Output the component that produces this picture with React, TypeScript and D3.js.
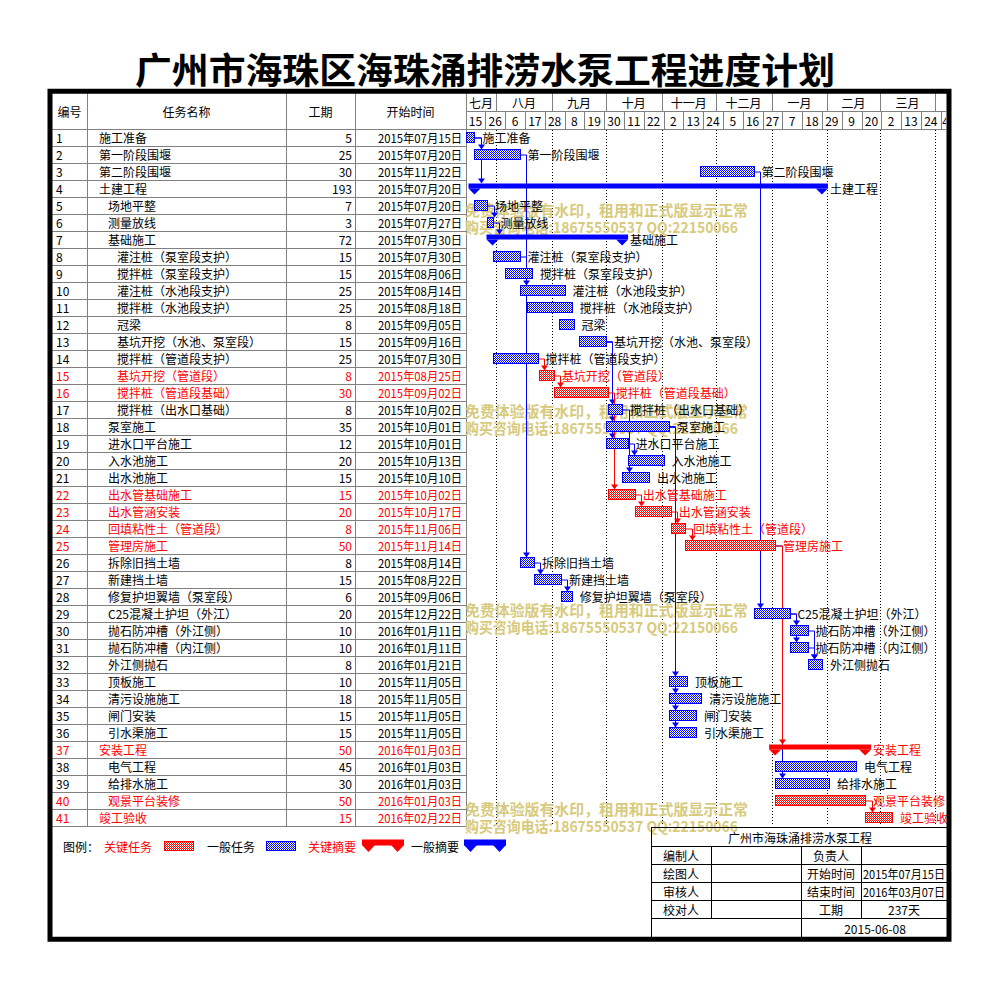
import React from 'react';
import * as d3 from 'd3';

// task table
const taskNames = [
  '施工准备', '第一阶段围堰', '第二阶段围堰', '土建工程', '场地平整', '测量放线', '基础施工',
  '灌注桩（泵室段支护）', '搅拌桩（泵室段支护）', '灌注桩（水池段支护）', '搅拌桩（水池段支护）', '冠梁',
  '基坑开挖（水池、泵室段）', '搅拌桩（管道段支护）', '基坑开挖（管道段）', '搅拌桩（管道段基础）', '搅拌桩（出水口基础）',
  '泵室施工', '进水口平台施工', '入水池施工', '出水池施工', '出水管基础施工', '出水管涵安装', '回填粘性土（管道段）', '管理房施工',
  '拆除旧挡土墙', '新建挡土墙', '修复护坦翼墙（泵室段）', 'C25混凝土护坦（外江）', '抛石防冲槽（外江侧）', '抛石防冲槽（内江侧）', '外江侧抛石',
  '顶板施工', '清污设施施工', '闸门安装', '引水渠施工', '安装工程', '电气工程', '给排水施工', '观景平台装修', '竣工验收',
];
const taskLevels = [
  1, 1, 1, 1, 2, 2, 2, 3, 3, 3, 3, 3, 3, 3, 3, 3, 3, 2, 2, 2, 2, 2, 2, 2, 2,
  2, 2, 2, 2, 2, 2, 2, 2, 2, 2, 2, 1, 2, 2, 2, 1,
];
const durations = [
  5, 25, 30, 193, 7, 3, 72, 15, 15, 25, 25, 8, 15, 25, 8, 30, 8, 35, 12, 20, 15, 15, 20, 8, 50,
  8, 15, 6, 20, 10, 10, 8, 10, 18, 15, 15, 50, 45, 30, 50, 15,
];
const startDates = [
  '2015-07-15', '2015-07-20', '2015-11-22', '2015-07-20', '2015-07-20', '2015-07-27', '2015-07-30',
  '2015-07-30', '2015-08-06', '2015-08-14', '2015-08-18', '2015-09-05', '2015-09-16', '2015-07-30',
  '2015-08-25', '2015-09-02', '2015-10-02', '2015-10-01', '2015-10-01', '2015-10-13', '2015-10-10',
  '2015-10-02', '2015-10-17', '2015-11-06', '2015-11-14', '2015-08-14', '2015-08-22', '2015-09-06',
  '2015-12-22', '2016-01-11', '2016-01-11', '2016-01-21', '2015-11-05', '2015-11-05', '2015-11-05',
  '2015-11-05', '2016-01-03', '2016-01-03', '2016-01-03', '2016-01-03', '2016-02-22',
];
const criticalRows = [15, 16, 22, 23, 24, 25, 37, 40, 41];
const summaryRows = [4, 7, 37];
// finish-to-start links: [predecessor, successor] (row numbers)
const links: [number, number][] = [
  [1, 2], [1, 4], [5, 6], [6, 7], [8, 10], [2, 26], [14, 15], [15, 16],
  [13, 17], [13, 18], [13, 19], [16, 22], [17, 21], [19, 20], [22, 23], [23, 24], [24, 25],
  [18, 33], [18, 34], [18, 35], [18, 36], [3, 29], [29, 30], [29, 31], [30, 32], [31, 32],
  [26, 27], [27, 28], [25, 39], [25, 37], [40, 41],
];

const timelineStart = '2015-07-15';
const timelineEnd = '2016-04-07';
const monthLabels = ['七月', '八月', '九月', '十月', '十一月', '十二月', '一月', '二月', '三月'];
const dayTickLabels = ['15', '26', '6', '17', '28', '8', '19', '30', '11', '22', '2', '13', '24',
  '5', '16', '27', '7', '18', '29', '9', '20', '2', '13', '24', '4'];

const headerCols = ['编号', '任务名称', '工期', '开始时间'];
const legendItems = ['关键任务', '一般任务', '关键摘要', '一般摘要'];
const infoLeft = ['编制人', '绘图人', '审核人', '校对人'];
const infoMid = ['负责人', '开始时间', '结束时间', '工期'];
const infoRight = ['', '2015年07月15日', '2016年03月07日', '237天'];
const projectName = '广州市海珠涌排涝水泵工程';
const chartTitle = '广州市海珠区海珠涌排涝水泵工程进度计划';
const printDate = '2015-06-08';
const watermark = ['免费体验版有水印，租用和正式版显示正常', '购买咨询电话:18675550537 QQ:22150066'];

const FONT = '"Noto Sans CJK SC", "Noto Sans", sans-serif';
const BLUE = '#0000ff';
const RED = '#ff0000';
const GRID = '#808080';

export default function App() {
  const parse = d3.utcParse('%Y-%m-%d');
  const fmt = d3.utcFormat('%Y年%m月%d日');
  const t0 = parse(timelineStart)!;
  const t1 = parse(timelineEnd)!;
  const pxPerDay = 1.8;
  const x = d3.scaleUtc().domain([t0, t1]).range([465.5, 465.5 + d3.utcDay.count(t0, t1) * pxPerDay]);
  const y = d3.scaleBand<number>().domain(d3.range(taskNames.length)).range([129, 826]);
  const rowH = y.bandwidth();
  const gx0 = 466, gx1 = x.range()[1];
  const cols = [52, 87, 286, 355, 466];

  const tasks = taskNames.map((name, i) => {
    const start = parse(startDates[i])!;
    return {
      i, name, level: taskLevels[i], dur: durations[i], start,
      end: d3.utcDay.offset(start, durations[i]),
      critical: criticalRows.includes(i + 1),
      summary: summaryRows.includes(i + 1),
    };
  });
  const r = (v: number) => Math.round(v) + 0.5;

  const months = d3.utcMonth.range(d3.utcMonth.floor(t0), t1);
  const monthEdges = d3.utcMonth.range(d3.utcMonth.ceil(t0), t1);
  const dayTicks = d3.utcDay.range(t0, t1, 11);

  const orderedLinks = [...links].sort((a, b) =>
    Number(tasks[a[1] - 1].critical) - Number(tasks[b[1] - 1].critical));

  return (
    <>
      <style>{'body{margin:0}'}</style>
      <svg width={999} height={988} style={{ display: 'block', background: '#fff' }} fontFamily={FONT}>
        <defs>
          <pattern id="pBlue" width="2" height="2" patternUnits="userSpaceOnUse">
            <rect width="2" height="2" fill="#fff" />
            <rect width="1" height="1" fill={BLUE} />
            <rect x="1" y="1" width="1" height="1" fill={BLUE} />
          </pattern>
          <pattern id="pRed" width="2" height="2" patternUnits="userSpaceOnUse">
            <rect width="2" height="2" fill="#fff" />
            <rect width="1" height="1" fill={RED} />
            <rect x="1" y="1" width="1" height="1" fill={RED} />
          </pattern>
          <clipPath id="ganttClip">
            <rect x={gx0} y={93} width={gx1 - gx0} height={740} />
          </clipPath>
        </defs>

        {/* title */}
        <text x={485} y={68} textAnchor="middle" dominantBaseline="central" fontSize={36}
          fontWeight="bold" textLength={700} lengthAdjust="spacingAndGlyphs">{chartTitle}</text>

        {/* table grid */}
        <g stroke={GRID} strokeWidth={1} shapeRendering="crispEdges">
          {cols.slice(1).map((c) => <line key={c} x1={c + 0.5} x2={c + 0.5} y1={93} y2={826} />)}
          {d3.range(taskNames.length + 1).map((k) => (
            <line key={k} x1={52} x2={466} y1={129 + k * rowH + 0.5} y2={129 + k * rowH + 0.5} />
          ))}
          <line x1={466} x2={gx1} y1={111.5} y2={111.5} />
          <line x1={466} x2={gx1} y1={129.5} y2={129.5} />
          {monthEdges.map((m) => <line key={+m} x1={r(x(m))} x2={r(x(m))} y1={93} y2={111} />)}
          {dayTicks.slice(1).map((d) => <line key={+d} x1={r(x(d))} x2={r(x(d))} y1={111} y2={129} />)}
        </g>

        {/* table header */}
        {headerCols.map((h, k) => (
          <text key={h} x={(cols[k] + cols[k + 1]) / 2} y={111} textAnchor="middle"
            dominantBaseline="central" fontSize={12}>{h}</text>
        ))}

        {/* timeline header */}
        <g clipPath="url(#ganttClip)" fontSize={12}>
          {months.map((m, k) => {
            if (k >= monthLabels.length) return null;
            const a = Math.max(x(m), gx0);
            const b = Math.min(x(d3.utcMonth.offset(m, 1)), gx1);
            return <text key={+m} x={(a + b) / 2} y={102} textAnchor="middle" dominantBaseline="central">{monthLabels[k]}</text>;
          })}
          {dayTicks.map((d, k) => {
            const a = x(d);
            const b = x(d3.utcDay.offset(d, 11));
            const narrow = b > gx1;
            return (
              <text key={+d} x={narrow ? a + 1.5 : (a + b) / 2} y={120}
                textAnchor={narrow ? 'start' : 'middle'} dominantBaseline="central">{dayTickLabels[k]}</text>
            );
          })}
        </g>

        {/* month dotted lines */}
        <g stroke="#000" strokeDasharray="1,2" shapeRendering="crispEdges">
          {monthEdges.map((m) => <line key={+m} x1={r(x(m))} x2={r(x(m))} y1={130} y2={826} />)}
        </g>

        {/* table rows */}
        <g fontSize={12} dominantBaseline="central">
          {tasks.map((t) => {
            const cy = y(t.i)! + rowH / 2;
            const fill = t.critical ? RED : '#000';
            return (
              <g key={t.i} fill={fill}>
                <text x={56} y={cy}>{t.i + 1}</text>
                <text x={90 + t.level * 9} y={cy}>{t.name}</text>
                <text x={352} y={cy} textAnchor="end">{t.dur}</text>
                <text x={462} y={cy} textAnchor="end" textLength={84} lengthAdjust="spacingAndGlyphs">{fmt(t.start)}</text>
              </g>
            );
          })}
        </g>

        {/* watermark */}
        <g fill="#d8ca7c" fontWeight="bold" fontSize={15} dominantBaseline="central">
          {[209, 410, 609, 808].map((wy) => (
            <g key={wy}>
              <text x={465} y={wy} textLength={283} lengthAdjust="spacingAndGlyphs">{watermark[0]}</text>
              <text x={465} y={wy + 17} textLength={273} lengthAdjust="spacingAndGlyphs">{watermark[1]}</text>
            </g>
          ))}
        </g>

        {/* links */}
        <g>
          {orderedLinks.map(([p, s]) => {
            const a = tasks[p - 1], b = tasks[s - 1];
            const col = b.critical ? RED : BLUE;
            const xe = x(a.end);
            const cx = r(xe + 6.5);
            const ym = y(a.i)! + rowH / 2 + 0.5;
            const yt = y(b.i)! + 3.5;
            return (
              <g key={`${p}-${s}`}>
                <path d={`M${xe},${ym}H${cx}V${yt - 4}`} fill="none" stroke={col} strokeWidth={1} />
                <path d={`M${cx - 3.5},${yt - 5}L${cx + 3.5},${yt - 5}L${cx},${yt}Z`} fill={col} />
              </g>
            );
          })}
        </g>

        {/* bars */}
        <g>
          {tasks.map((t) => {
            const top = y(t.i)!;
            const xs = x(t.start), xe = x(t.end);
            const col = t.critical ? RED : BLUE;
            if (t.summary) {
              const tri = (cx: number) => `M${cx - 6},${top + 8.5}L${cx + 6},${top + 8.5}L${cx},${top + 14.5}Z`;
              return (
                <g key={t.i} fill={col}>
                  <rect x={xs - 6} y={top + 3.5} width={xe - xs + 12} height={5} />
                  <path d={tri(xs)} />
                  <path d={tri(xe)} />
                </g>
              );
            }
            return (
              <rect key={t.i} x={r(xs)} y={top + 3.5} width={Math.round(xe) - Math.round(xs)} height={10}
                fill={`url(#${t.critical ? 'pRed' : 'pBlue'})`} stroke={col} strokeWidth={1} />
            );
          })}
        </g>

        {/* bar labels */}
        <g fontSize={12} dominantBaseline="central">
          {tasks.map((t) => (
            <text key={t.i} x={x(t.end) + 8} y={y(t.i)! + rowH / 2} fill={t.critical ? RED : '#000'}>{t.name}</text>
          ))}
        </g>

        {/* legend */}
        <g fontSize={12} dominantBaseline="central">
          <text x={63} y={846}>图例：</text>
          <text x={104} y={846} fill={RED}>{legendItems[0]}</text>
          <rect x={164.5} y={841.5} width={29} height={9} fill="url(#pRed)" stroke={RED} />
          <text x={207} y={846}>{legendItems[1]}</text>
          <rect x={266.5} y={841.5} width={29} height={9} fill="url(#pBlue)" stroke={BLUE} />
          <text x={308} y={846} fill={RED}>{legendItems[2]}</text>
          {[[362, RED], [464, BLUE]].map(([lx, c]) => {
            const l = lx as number;
            return (
              <g key={l} fill={c as string}>
                <rect x={l} y={839.5} width={42} height={6} />
                <path d={`M${l},${845}L${l + 13},${845}L${l + 6.5},${852}Z`} />
                <path d={`M${l + 29},${845}L${l + 42},${845}L${l + 35.5},${852}Z`} />
              </g>
            );
          })}
          <text x={411} y={846}>{legendItems[3]}</text>
        </g>

        {/* info block */}
        <g stroke="#000" strokeWidth={1} shapeRendering="crispEdges">
          {[827.5, 846.5, 864.5, 882.5, 900.5, 918.5].map((ly) => <line key={ly} x1={651} x2={947} y1={ly} y2={ly} />)}
          <line x1={651.5} x2={651.5} y1={827} y2={938} />
          <line x1={711.5} x2={711.5} y1={846} y2={918} />
          <line x1={801.5} x2={801.5} y1={846} y2={938} />
          <line x1={861.5} x2={861.5} y1={846} y2={918} />
        </g>
        <g fontSize={12} textAnchor="middle" dominantBaseline="central">
          <text x={800} y={837}>{projectName}</text>
          {infoLeft.map((s, k) => <text key={s} x={681} y={855.5 + k * 18} >{s}</text>)}
          {infoMid.map((s, k) => <text key={s} x={831} y={855.5 + k * 18}>{s}</text>)}
          {infoRight.map((s, k) => (
            <text key={k} x={904} y={855.5 + k * 18}
              {...(s.length > 8 ? { textLength: 82, lengthAdjust: 'spacingAndGlyphs' } : {})}>{s}</text>
          ))}
          <text x={875} y={928}>{printDate}</text>
        </g>

        {/* frame */}
        <rect x={50} y={91.25} width={899} height={848} fill="none" stroke="#000" strokeWidth={5} />
      </svg>
    </>
  );
}
